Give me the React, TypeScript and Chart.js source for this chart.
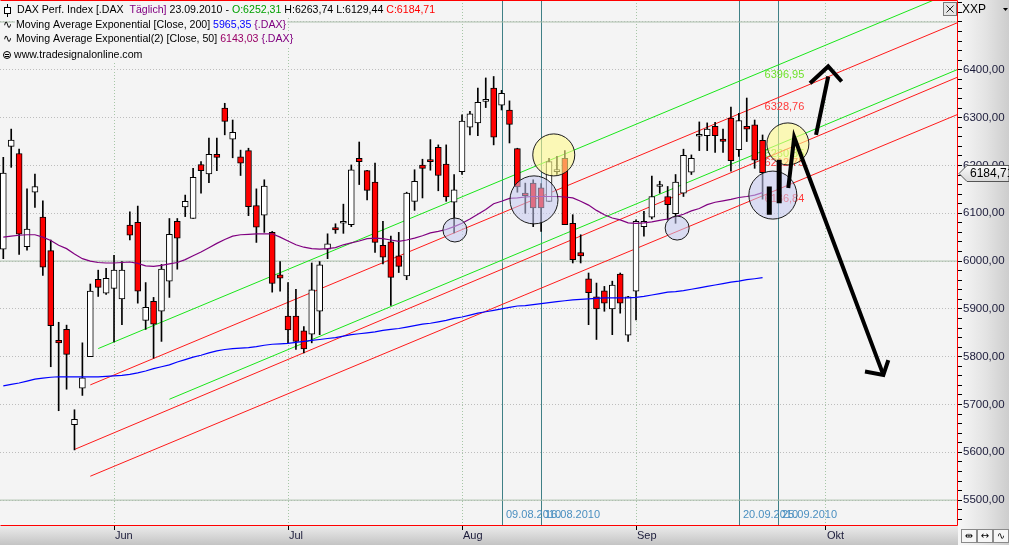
import React, { useEffect, useRef } from 'react';
import { Chart, registerables } from 'chart.js';

Chart.register(...registerables);

// ---- Daily OHLC of the DAX (index 0 = 12.05.2010 ... index 96 = 23.09.2010) ----
const opens = [6025,6240,6225,6030,6144,6092,6022,5834,5857,5658, 5734,5800,5962,5933,5943,5921,6075,6081,5876,5916, 5895,5958,6083,6113,6089,6202,6182,6223,6320,6255, 6218,6231,6116,6096,6060,5971,5885,5885,5854,5847, 5895,6025,6070,6079,6076,6215,6189,6165,6033,6040, 6011,5969,6125,6201,6212,6238,6203,6123,6187,6280, 6289,6334,6362,6326,6316,6235,6142,6163,6153,6125, 6187,6215,6079,6018,5963,5925,5938,5900,5973,5845, 5937,6072,6092,6156,6135,6099,6142,6186,6261,6262, 6282,6255,6299,6233,6282,6285,6252.31];
const highs = [6217,6276,6234,6151,6182,6126,6044,5872,5866,5689, 5829,5952,5981,5985,6012,5999,6103,6115,5955,5924, 5993,6089,6089,6138,6194,6208,6257,6257,6330,6295, 6232,6236,6151,6170,6062,5999,5955,5941,5863,5996, 5999,6057,6078,6119,6201,6249,6190,6205,6083,6052, 6060,6144,6191,6213,6254,6243,6243,6181,6306,6313, 6362,6383,6386,6357,6335,6236,6163,6170,6162,6215, 6219,6231,6097,6055,5975,5954,5947,5958,5975,5926, 6086,6104,6178,6167,6156,6181,6234,6222,6291,6289, 6290,6276,6322,6309,6341,6295,6263.74];
const lows = [6005,6196,6014,6023,6112,5970,5779,5687,5732,5605, 5719,5800,5926,5930,5831,5867,6044,5912,5857,5797, 5832,5924,5983,6093,6089,6142,6164,6189,6264,6216, 6179,6095,6039,6060,5935,5937,5829,5815,5808,5829, 5846,6005,6058,6058,6072,6160,6128,6018,5994,5907, 5976,5961,6106,6132,6190,6147,6125,6059,6181,6264, 6262,6321,6243,6316,6247,6144,6100,6072,6062,6125, 6181,6076,5996,5996,5867,5836,5895,5846,5891,5832, 5877,6052,6088,6142,6086,6079,6135,6181,6231,6231, 6227,6227,6188,6219,6250,6194,6129.44];
const closes = [6184,6253,6056,6067,6156,5987,5865,5829,5805,5669, 5756,5937,5945,5964,5981,5981,6054,5937,5903,5868, 5983,6056,6048,6125,6175,6189,6223,6217,6292,6269, 6205,6114,6071,6157,5953,5964,5856,5832,5816,5940, 5992,6036,6065,6079,6191,6208,6148,6039,6008,5966, 5989,6142,6167,6194,6208,6179,6134,6149,6293,6308, 6332,6334,6259,6351,6286,6155,6137,6111,6111,6208, 6189,6076,6003,6011,5934,5900,5912,5950,5912,5925, 6083,6083,6135,6156,6118,6165,6221,6215,6261,6276, 6262,6250,6210,6294,6276,6211,6184.71];

// Exponential moving averages
const ema50 = [6050,6052,6054,6055,6055,6050,6043,6033,6026,6015, 6005,6000,5997,5996,5996,5997,5998,5995,5990,5989, 5991,5994,5997,6003,6011,6019,6028,6037,6045,6052, 6055,6056,6057,6057,6057,6050,6042,6034,6029,6026, 6025,6026,6028,6034,6038,6042,6047,6048,6047,6044, 6041,6044,6048,6053,6059,6062,6066,6072,6079,6088, 6098,6108,6120,6125,6131,6132,6134,6135,6135,6135, 6135,6134,6132,6125,6117,6106,6097,6090,6086,6080, 6079,6080,6082,6085,6088,6093,6098,6105,6110,6118, 6123,6126,6129,6133,6135,6138,6143.03];
const ema200 = [5739,5742,5745,5749,5753,5755,5757,5758,5758,5758, 5758,5758,5758,5759,5760,5761,5763,5766,5770,5775, 5779,5783,5789,5794,5799,5803,5808,5812,5815,5817, 5818,5819,5821,5824,5826,5827,5828,5830,5832,5834, 5836,5838,5840,5843,5846,5848,5850,5852,5855,5857, 5859,5862,5865,5868,5870,5873,5876,5880,5883,5887, 5891,5894,5897,5900,5903,5906,5907,5909,5911,5913, 5915,5917,5919,5920,5921,5922,5923,5923,5923,5923, 5924,5926,5929,5932,5935,5936,5938,5941,5944,5947, 5950,5953,5956,5958,5961,5963,5965.35];

// Axis
const monthTicks = [14, 36, 58, 80, 104];
const monthLabels = ['Jun', 'Jul', 'Aug', 'Sep', 'Okt'];
const priceLabels = [5500, 5600, 5700, 5800, 5900, 6000, 6100, 6200, 6300, 6400];
const levelLines = [5500, 6000, 6500];

// Vertical date markers
const dateLineX = [63, 68, 93, 98];
const dateLineLabels = ['09.08.2010', '16.08.2010', '20.09.2010', '25.09.2010'];

// Trend channel lines (start/end in index / price), and value at last bar
const trendStartX = [12, 11, 21, 9, 11];
const trendStartY = [5817, 5741, 5711, 5606, 5550];
const trendEndX = [120.71, 120.71, 120.71, 120.71, 120.71];
const trendEndY = [6567, 6499, 6401, 6385, 6307];
const trendLabelX = 96;
const trendLabelValues = [6396.95, 6328.76, 6230.85, 6212.75, 6136.84];
const trendIsGreen = [true, false, true, false, false];

// Circle annotations
const blueCircleX = [57.1, 67.1, 85.2, 97.3];
const blueCircleY = [6065, 6128, 6069, 6138];
const blueCircleR = [12, 24, 12, 24];
const yellowCircleX = [69.6, 99.2];
const yellowCircleY = [6222, 6245];
const yellowCircleR = [21, 21];

// Hand drawn projection strokes
const barAX = [96.85, 96.85]; const barAY = [6156, 6097];
const barBX = [98.1, 98.1]; const barBY = [6212, 6121];
const zigX = [99.25, 100.0, 111.27]; const zigY = [6153, 6259, 5762];
const downHeadX = [108.95, 111.27, 111.9]; const downHeadY = [5769, 5762, 5793];
const upShaftX = [102.76, 104.3]; const upShaftY = [6264, 6386];
const upHeadX = [102.0, 104.3, 106.0]; const upHeadY = [6372, 6407, 6375.5];

const X_MIN = -0.417;
const X_MAX = 120.71;
const Y_MIN = 5448;
const Y_MAX = 6546;

const FONT = '"Liberation Sans", Arial, Helvetica, sans-serif';
const de = (v: number) => v.toFixed(2).replace('.', ',');

export default function App() {
  const canvasRef = useRef<HTMLCanvasElement | null>(null);

  useEffect(() => {
    const canvas = canvasRef.current;
    if (!canvas) return;
    const idx = closes.map((_, i) => i);
    const last = closes.length - 1;
    const pts = (xa: number[], ya: number[]) => xa.map((x, i) => ({ x, y: ya[i] }));
    const bodyColors = idx.map(i => (closes[i] < opens[i] ? '#ff0000' : '#ffffff'));

    const line = (data: any[], color: string, width: number, order: number) => ({
      type: 'line', data, borderColor: color, borderWidth: width, pointRadius: 0,
      tension: 0, fill: false, order, borderJoinStyle: 'miter',
    });

    const datasets: any[] = [];
    levelLines.forEach(v => datasets.push(line([{ x: X_MIN, y: v }, { x: X_MAX, y: v }], '#aabfaa', 1, 9)));
    trendStartX.forEach((_, k) => datasets.push(line(
      [{ x: trendStartX[k], y: trendStartY[k] }, { x: trendEndX[k], y: trendEndY[k] }],
      trendIsGreen[k] ? '#19e619' : '#ff1a1a', 1, 8)));
    datasets.push({
      type: 'bar', data: idx.map(i => ({ x: i, y: [lows[i], highs[i]] })),
      backgroundColor: '#000', borderWidth: 0, barThickness: 1, grouped: false, order: 7,
    });
    datasets.push({
      type: 'bar', data: idx.map(i => ({ x: i, y: [opens[i], closes[i]] })),
      backgroundColor: bodyColors, borderColor: '#000', borderWidth: 1, borderSkipped: false,
      barThickness: 6, minBarLength: 2, grouped: false, order: 6,
    });
    datasets.push(line(idx.map(i => ({ x: i, y: ema200[i] })), '#0000ff', 1.2, 5));
    datasets.push(line(idx.map(i => ({ x: i, y: ema50[i] })), '#800080', 1.2, 5));
    datasets.push({
      type: 'bubble', data: blueCircleX.map((x, i) => ({ x, y: blueCircleY[i], r: blueCircleR[i] })),
      backgroundColor: 'rgba(196,200,240,0.55)', borderColor: '#1a1a1a', borderWidth: 1, order: 2,
    });
    datasets.push({
      type: 'bubble', data: yellowCircleX.map((x, i) => ({ x, y: yellowCircleY[i], r: yellowCircleR[i] })),
      backgroundColor: 'rgba(255,250,140,0.6)', borderColor: '#1a1a1a', borderWidth: 1, order: 2,
    });
    datasets.push(line(pts(barAX, barAY), '#000', 5, 1));
    datasets.push(line(pts(barBX, barBY), '#000', 5, 1));
    datasets.push(line(pts(zigX, zigY), '#000', 4, 1));
    datasets.push(line(pts(downHeadX, downHeadY), '#000', 4, 1));
    datasets.push(line(pts(upShaftX, upShaftY), '#000', 4, 1));
    datasets.push(line(pts(upHeadX, upHeadY), '#000', 4, 1));

    const decor = {
      id: 'decor',
      beforeDraw(chart: any) {
        const { ctx, chartArea: a, width, height } = chart;
        ctx.save();
        ctx.fillStyle = '#f4f4f4';
        ctx.fillRect(0, 0, a.right, a.bottom);
        let g = ctx.createLinearGradient(a.right, 0, width, 0);
        g.addColorStop(0, '#f7f7f7');
        g.addColorStop(0.55, '#e3e3e3');
        g.addColorStop(1, '#cdcdcd');
        ctx.fillStyle = g;
        ctx.fillRect(a.right, 0, width - a.right, height);
        g = ctx.createLinearGradient(0, a.bottom, 0, height);
        g.addColorStop(0, '#ededed');
        g.addColorStop(1, '#c4c4c4');
        ctx.fillStyle = g;
        ctx.fillRect(0, a.bottom, a.right, height - a.bottom);
        ctx.restore();
      },
      beforeDatasetsDraw(chart: any) {
        const { ctx, chartArea: a, scales } = chart;
        const xs = scales.x, ys = scales.y;
        ctx.save();
        ctx.strokeStyle = '#3f8086';
        ctx.lineWidth = 1;
        dateLineX.forEach(v => {
          const px = Math.round(xs.getPixelForValue(v)) + 0.5;
          ctx.beginPath();
          ctx.moveTo(px, a.top);
          ctx.lineTo(px, a.bottom);
          ctx.stroke();
        });
        ctx.font = `11px ${FONT}`;
        ctx.textBaseline = 'middle';
        ctx.fillStyle = '#4a8fc0';
        dateLineX.forEach((v, i) => {
          const px = Math.round(xs.getPixelForValue(v));
          ctx.fillText(dateLineLabels[i], px + 4, a.bottom - 10);
        });
        ctx.textBaseline = 'top';
        const lx = xs.getPixelForValue(trendLabelX) + 2;
        trendLabelValues.forEach((v, k) => {
          ctx.fillStyle = trendIsGreen[k] ? '#6fe22c' : '#ff3a3a';
          ctx.fillText(de(v), lx, ys.getPixelForValue(v) - 2);
        });
        ctx.restore();
      },
      afterDraw(chart: any) {
        const { ctx, chartArea: a, scales, width } = chart;
        const xs = scales.x, ys = scales.y;
        ctx.save();
        // plot frame
        ctx.strokeStyle = '#ff0000';
        ctx.lineWidth = 1;
        ctx.beginPath();
        ctx.moveTo(0.5, a.bottom + 0.5);
        ctx.lineTo(a.right - 0.5, a.bottom + 0.5);
        ctx.lineTo(a.right - 0.5, 0.5);
        ctx.lineTo(0.5, 0.5);
        ctx.stroke();

        // price axis labels
        ctx.fillStyle = '#1b1b3a';
        ctx.font = `11.5px ${FONT}`;
        ctx.textBaseline = 'middle';
        ctx.textAlign = 'left';
        priceLabels.forEach(v => ctx.fillText(de(v), a.right + 5, ys.getPixelForValue(v)));

        // month labels
        ctx.font = `11px ${FONT}`;
        monthTicks.forEach((v, i) => ctx.fillText(monthLabels[i], Math.round(xs.getPixelForValue(v)) + 1, a.bottom + 11));

        // last price tag
        const py = Math.round(ys.getPixelForValue(closes[last])) + 0.5;
        const x0 = a.right + 1;
        ctx.beginPath();
        ctx.moveTo(x0, py);
        ctx.lineTo(x0 + 8, py - 8);
        ctx.lineTo(width, py - 8);
        ctx.lineTo(width, py + 8);
        ctx.lineTo(x0 + 8, py + 8);
        ctx.closePath();
        const tg = ctx.createLinearGradient(0, py - 8, 0, py + 8);
        tg.addColorStop(0, '#fbfbfb');
        tg.addColorStop(1, '#d8d8d8');
        ctx.fillStyle = tg;
        ctx.fill();
        ctx.strokeStyle = '#555';
        ctx.stroke();
        ctx.fillStyle = '#000';
        ctx.font = `12px ${FONT}`;
        ctx.fillText(de(closes[last]), x0 + 11, py);

        // legend
        const segLine = (x: number, y: number, segs: [string, string][]) => {
          let total = 0;
          segs.forEach(([t]) => { total += ctx.measureText(t).width; });
          ctx.fillStyle = '#f4f4f4';
          ctx.fillRect(x - 1, y - 7, total + 2, 14);
          segs.forEach(([t, c]) => {
            ctx.fillStyle = c;
            ctx.fillText(t, x, y);
            x += ctx.measureText(t).width;
          });
        };
        ctx.font = `10.6px ${FONT}`;
        ctx.textBaseline = 'middle';
        segLine(17, 10, [
          ['DAX Perf. Index [.DAX  ', '#000'], ['Täglich]', '#800080'], [' 23.09.2010 - ', '#000'],
          ['O:' + de(opens[last]), '#00a000'], [' H:' + de(highs[last]), '#000'],
          [' L:' + de(lows[last]), '#000'], [' C:' + de(closes[last]), '#ff0000'],
        ]);
        segLine(16, 25, [
          ['Moving Average Exponential [Close, 200] ', '#000'], [de(ema200[last]), '#0000ff'], [' {.DAX}', '#800080'],
        ]);
        segLine(16, 39, [
          ['Moving Average Exponential(2) [Close, 50] ', '#000'], [de(ema50[last]), '#990066'], [' {.DAX}', '#800080'],
        ]);
        segLine(14, 55, [['www.tradesignalonline.com', '#000']]);
        // legend icons
        ctx.strokeStyle = '#000';
        ctx.lineWidth = 1;
        ctx.beginPath();
        ctx.moveTo(7.5, 4); ctx.lineTo(7.5, 17);
        ctx.stroke();
        ctx.fillStyle = '#fff';
        ctx.fillRect(4.5, 7.5, 6, 6);
        ctx.strokeRect(4.5, 7.5, 6, 6);
        ctx.fillStyle = '#000';
        ctx.font = `11px "DejaVu Sans", ${FONT}`;
        ctx.fillText('\u223F', 3, 25);
        ctx.fillText('\u223F', 3, 39);
        ctx.beginPath();
        ctx.arc(7, 55, 3.5, 0, Math.PI * 2);
        ctx.stroke();
        ctx.beginPath();
        ctx.moveTo(5, 54.5); ctx.lineTo(9, 54.5);
        ctx.moveTo(5, 56.5); ctx.lineTo(9, 56.5);
        ctx.stroke();

        // close box and axis title
        ctx.fillStyle = '#e6e6e6';
        ctx.fillRect(943.5, 2.5, 13, 13);
        ctx.strokeStyle = '#7a7a7a';
        ctx.strokeRect(943.5, 2.5, 13, 13);
        ctx.strokeStyle = '#222';
        ctx.beginPath();
        ctx.moveTo(946.5, 5.5); ctx.lineTo(953.5, 12.5);
        ctx.moveTo(953.5, 5.5); ctx.lineTo(946.5, 12.5);
        ctx.stroke();
        ctx.fillStyle = '#000';
        ctx.font = `12px ${FONT}`;
        ctx.fillText('XXP', a.right + 4, 10);
        ctx.beginPath();
        ctx.moveTo(1003, 8); ctx.lineTo(1008, 8); ctx.lineTo(1005.5, 11);
        ctx.closePath();
        ctx.fill();

        // small buttons bottom right
        const by = a.bottom + 4;
        ['\u21F9', '\u2194', '\u223F'].forEach((t, i) => {
          const bx = a.right + 3.5 + i * 16;
          ctx.fillStyle = '#f6f6f6';
          ctx.fillRect(bx, by + 0.5, 15, 13);
          ctx.strokeStyle = '#8a8a8a';
          ctx.strokeRect(bx, by + 0.5, 15, 13);
          ctx.fillStyle = '#000';
          ctx.font = `10px "DejaVu Sans", ${FONT}`;
          ctx.textAlign = 'center';
          ctx.fillText(t, bx + 7.5, by + 7.5);
          ctx.textAlign = 'left';
        });
        ctx.restore();
      },
    };

    const chart = new Chart(canvas, {
      type: 'bar',
      data: { datasets },
      options: {
        responsive: false,
        maintainAspectRatio: false,
        animation: false,
        devicePixelRatio: 1,
        events: [],
        layout: { padding: 0, autoPadding: false },
        plugins: { legend: { display: false }, tooltip: { enabled: false }, title: { display: false } },
        scales: {
          x: {
            type: 'linear', position: 'bottom', min: X_MIN, max: X_MAX, offset: false,
            afterBuildTicks: (s: any) => { s.ticks = monthTicks.map(v => ({ value: v })); },
            afterFit: (s: any) => { s.height = 20; },
            ticks: { display: false },
            grid: { offset: false, color: '#a6c6a6', lineWidth: 1, drawTicks: true, tickLength: 5, tickColor: '#000' },
            border: { display: false, dash: [1, 2] },
          },
          y: {
            type: 'linear', position: 'right', min: Y_MIN, max: Y_MAX, beginAtZero: false,
            afterBuildTicks: (s: any) => {
              const t: any[] = [];
              for (let v = 5460; v <= 6540; v += 20) t.push({ value: v });
              s.ticks = t;
            },
            afterFit: (s: any) => { s.width = 51; },
            ticks: { display: false },
            grid: {
              color: (c: any) => (c.tick && c.tick.value % 100 === 0 ? '#bdbdbd' : 'rgba(0,0,0,0)'),
              lineWidth: 1, drawTicks: true, tickLength: 4, tickColor: '#000',
            },
            border: { display: false, dash: [1, 2] },
          },
        },
      } as any,
      plugins: [decor],
    } as any);

    return () => chart.destroy();
  }, []);

  return (
    <div style={{ position: 'fixed', left: 0, top: 0, width: 1009, height: 545 }}>
      <canvas ref={canvasRef} width={1009} height={545} style={{ display: 'block', width: 1009, height: 545 }} />
    </div>
  );
}
